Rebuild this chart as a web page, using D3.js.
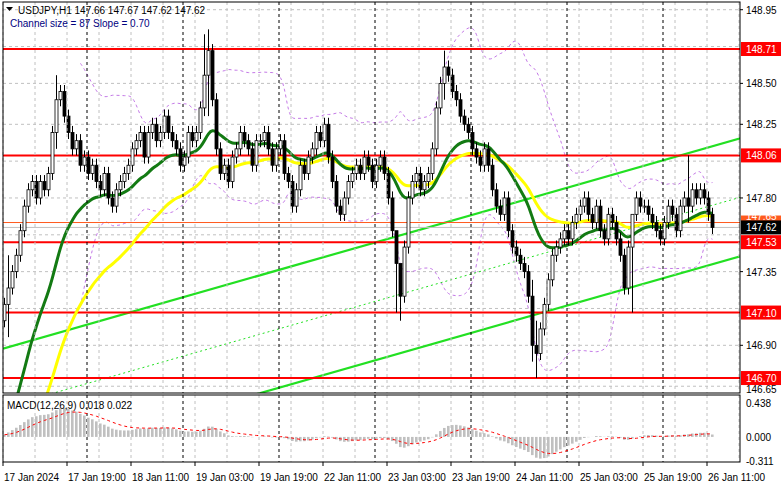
<!DOCTYPE html><html><head><meta charset="utf-8"><script src="https://cdn.jsdelivr.net/npm/d3@7"></script>
<style>body{margin:0;background:#fff}text{font-family:"Liberation Sans",Arial,sans-serif;font-size:10px}</style></head><body><svg id="c" width="781" height="489"></svg>
<script>
const closes=[147.15,147.25,147.35,147.45,147.6,147.75,147.85,147.9,147.8,147.9,147.85,147.95,148.2,148.4,148.45,148.3,
148.2,148.1,148.15,148.0,148.05,147.95,148.0,147.9,147.85,147.95,147.8,147.75,147.85,147.9,147.95,148.0,
148.1,148.15,148.2,148.05,148.2,148.25,148.15,148.2,148.3,148.2,148.15,148.1,148.0,148.05,148.2,148.15,
148.2,148.35,148.55,148.7,148.4,148.1,147.95,148.0,147.9,148.05,148.1,148.2,148.15,148.1,148.0,148.15,
148.15,148.2,148.1,148.0,148.1,148.15,147.95,147.9,147.75,147.85,148.0,147.95,148.05,148.1,148.2,148.15,
148.25,148.05,147.9,147.75,147.7,147.8,147.9,147.95,148.0,147.95,148.05,148.0,147.9,148.0,148.05,147.95,
147.8,147.6,147.4,147.2,147.5,147.8,147.9,147.95,147.85,147.9,147.95,148.1,148.35,148.5,148.6,148.55,
148.45,148.4,148.3,148.25,148.2,148.1,148.05,148.0,148.1,148.0,147.85,147.75,147.7,147.8,147.6,147.5,
147.45,147.4,147.35,147.2,146.9,146.85,147.0,147.15,147.3,147.45,147.5,147.55,147.6,147.55,147.65,147.7,
147.75,147.8,147.7,147.65,147.75,147.6,147.55,147.7,147.65,147.55,147.45,147.25,147.5,147.7,147.8,147.75,
147.75,147.7,147.65,147.6,147.55,147.65,147.75,147.7,147.6,147.75,147.8,147.75,147.85,147.8,147.85,147.8,
147.7,147.62];
const firstOpen=147.05;
const spikes=[[1,147.45,146.95],[13,148.55,148.1],[51,148.83,148.3],[50,148.8,148.3],[99,147.35,147.05],[98,147.55,147.1],[110,148.7,148.4],[133,147.05,146.7],[132,147.3,146.8],[157,147.5,147.1],[171,148.06,147.65]];
const timeLabels=["17 Jan 2024","17 Jan 19:00","18 Jan 11:00","19 Jan 03:00","19 Jan 19:00","22 Jan 11:00","23 Jan 03:00","23 Jan 19:00","24 Jan 11:00","25 Jan 03:00","25 Jan 19:00","26 Jan 11:00"];
const levels=[148.71,148.06,147.53,147.10,146.70];
const priceTicks=[148.95,148.50,148.25,147.80,147.35,146.90];
const gridPrices=[148.95,148.725,148.50,148.25,148.025,147.80,147.575,147.35,147.125,146.90,146.65];
const channel={startBar:0,startUpper:146.88,endBar:178,endUpper:148.12,width:0.72};
const macdTicks=[0.438,0.00,-0.311];

const svg=d3.select("#c");
const L=3,R=740,T=2,B=393,MT=395,MB=462;
const n=closes.length;
const x=d3.scaleLinear().domain([0,n]).range([3,3+4*n]);
const y=d3.scaleLinear().domain([148.71-(B-49)/163.7,148.71]).range([B,49]);
const opens=closes.map((c,i)=>i?closes[i-1]:firstOpen);
const highs=closes.map((c,i)=>Math.max(c,opens[i])+0.04);
const lows=closes.map((c,i)=>Math.min(c,opens[i])-0.04);
spikes.forEach(([i,h,l])=>{highs[i]=h;lows[i]=l;});
const main=svg.append("g");
main.append("defs").append("clipPath").attr("id","cp").append("rect").attr("x",L).attr("y",T).attr("width",R-L).attr("height",B-T);
const g=main.append("g").attr("clip-path","url(#cp)");
gridPrices.forEach(p=>g.append("line").attr("x1",L).attr("x2",R).attr("y1",y(p)).attr("y2",y(p)).attr("stroke","#c0c0c0").attr("stroke-dasharray","3,3"));
for(let i=0;i<=23;i++){const xx=x(i*8);[[T,B],[MT,MB]].forEach(([a,b])=>svg.append("line").attr("x1",xx).attr("x2",xx).attr("y1",a).attr("y2",b).attr("stroke","#c0c0c0").attr("stroke-dasharray","3,3"));}
for(let i=21;i<n;i+=24){const xx=x(i);[[T,B],[MT,MB]].forEach(([a,b])=>svg.append("line").attr("x1",xx).attr("x2",xx).attr("y1",a).attr("y2",b).attr("stroke","#000").attr("stroke-dasharray","3,3"));}
function sma(p){return closes.map((c,i)=>i<p-1?null:d3.mean(closes.slice(i-p+1,i+1)));}
function sd(p){return closes.map((c,i)=>i<p-1?null:d3.deviation(closes.slice(i-p+1,i+1)));}
const line=d3.line().defined(d=>d[1]!=null).x(d=>x(d[0])+1.5).y(d=>y(d[1])).curve(d3.curveBasis);
const m20=sma(20),s20=sd(20);
const bu=m20.map((m,i)=>m==null?null:m+2*s20[i]), bl=m20.map((m,i)=>m==null?null:m-2*s20[i]);
[bu,bl].forEach(a=>g.append("path").attr("d",line(a.map((v,i)=>[i,v]))).attr("fill","none").attr("stroke","#b455e0").attr("stroke-width",0.8).attr("stroke-dasharray","3,3"));
const slope=(channel.endUpper-channel.startUpper)/(channel.endBar-channel.startBar);
const ch=(off)=>[[channel.startBar,channel.startUpper+off],[channel.endBar+10,channel.startUpper+off+slope*(channel.endBar+10)]];
const sl=d3.line().x(d=>x(d[0])).y(d=>y(d[1]));
g.append("path").attr("d",sl(ch(0))).attr("stroke","#22e022").attr("stroke-width",2.2);
g.append("path").attr("d",sl(ch(-channel.width))).attr("stroke","#22e022").attr("stroke-width",2.2);
g.append("path").attr("d",sl(ch(-channel.width/2))).attr("stroke","#22e022").attr("stroke-width",1).attr("stroke-dasharray","2,3");
levels.forEach(p=>g.append("line").attr("x1",L).attr("x2",R).attr("y1",y(p)).attr("y2",y(p)).attr("stroke","#f00").attr("stroke-width",2));
g.append("line").attr("x1",L).attr("x2",R).attr("y1",y(147.65)).attr("y2",y(147.65)).attr("stroke","#ff5a1e").attr("stroke-width",1);
g.append("line").attr("x1",L).attr("x2",R).attr("y1",y(147.62)).attr("y2",y(147.62)).attr("stroke","#c0c0c0").attr("stroke-width",1);
const ema=(p,off)=>{const k=2/(p+1);let e=closes[0]+off;return closes.map(c=>e=e+(c-e)*k);};
const yl=ema(40,-1.4), gr=ema(22,-0.9);
g.append("path").attr("d",line(yl.map((v,i)=>[i,v]))).attr("fill","none").attr("stroke","#ffff00").attr("stroke-width",3);
g.append("path").attr("d",line(gr.map((v,i)=>[i,v]))).attr("fill","none").attr("stroke","#137a13").attr("stroke-width",3);
closes.forEach((c,i)=>{const o=opens[i],cx=x(i)+1.5;
 g.append("line").attr("x1",cx).attr("x2",cx).attr("y1",y(highs[i])).attr("y2",y(lows[i])).attr("stroke","#000");
 const top=y(Math.max(o,c)),h=Math.max(1,Math.abs(y(o)-y(c)));
 g.append("rect").attr("x",x(i)).attr("y",top).attr("width",3).attr("height",h).attr("fill",c>=o?"#fff":"#000").attr("stroke","#000").attr("stroke-width",0.8);
});
const ef=(p)=>{const k=2/(p+1);let e=closes[0]-0.35;return closes.map(c=>e=e+(c-e)*k);};
const e12=ef(12),e26=ef(26);
const macd=e12.map((v,i)=>v-e26[i]);
const sig=[];macd.forEach((v,i)=>sig.push(i?sig[i-1]+(v-sig[i-1])*0.2:v));
const ym=d3.scaleLinear().domain([-0.311,0.438]).range([461,403]);
macd.forEach((v,i)=>svg.append("rect").attr("x",x(i)).attr("width",2.6).attr("y",Math.min(ym(v),ym(0))).attr("height",Math.abs(ym(v)-ym(0))).attr("fill","#c0c0c0"));
svg.append("path").attr("d",d3.line().x((d,i)=>x(i)+1.5).y(d=>ym(d))(sig)).attr("fill","none").attr("stroke","#f00").attr("stroke-dasharray","3,3");
svg.append("rect").attr("x",L).attr("y",T).attr("width",R-L).attr("height",B-T).attr("fill","none").attr("stroke","#000");
svg.append("rect").attr("x",L).attr("y",MT).attr("width",R-L).attr("height",MB-MT).attr("fill","none").attr("stroke","#000");
priceTicks.forEach(p=>{svg.append("line").attr("x1",R).attr("x2",R+3).attr("y1",y(p)).attr("y2",y(p)).attr("stroke","#000");svg.append("text").attr("x",746).attr("y",y(p)+4).text(p.toFixed(2));});
svg.append("text").attr("x",746).attr("y",393).attr("font-size",8).text("146.65");
svg.append("rect").attr("x",R+1).attr("y",y(147.65)-7).attr("width",40).attr("height",13).attr("fill","#ff5a1e");
levels.forEach(p=>{svg.append("rect").attr("x",R+1).attr("y",y(p)-7).attr("width",40).attr("height",14).attr("fill","#f00");svg.append("text").attr("x",746).attr("y",y(p)+4).attr("fill","#fff").text(p.toFixed(2));});
svg.append("rect").attr("x",R+1).attr("y",y(147.62)-7).attr("width",40).attr("height",14).attr("fill","#000");
svg.append("text").attr("x",746).attr("y",y(147.62)+4).attr("fill","#fff").text("147.62");
svg.append("text").attr("x",746).attr("y",y(147.62)-7).attr("fill","#fff").attr("font-size",5).text("147.65");
macdTicks.forEach(v=>svg.append("text").attr("x",746).attr("y",ym(v)+4).text(v.toFixed(3)));
timeLabels.forEach((t,i)=>{svg.append("line").attr("x1",x(i*16)).attr("x2",x(i*16)).attr("y1",MB).attr("y2",MB+4).attr("stroke","#000");svg.append("text").attr("x",x(i*16)+1).attr("y",481).text(t);});
svg.append("path").attr("d","M6,7 L13,7 L9.5,11 Z").attr("fill","#000");
svg.append("text").attr("x",18).attr("y",14).attr("font-size",10.5).text("USDJPY,H1  147.66 147.67 147.62 147.62");
svg.append("text").attr("x",10).attr("y",27).attr("font-size",10.5).attr("fill","#000080").text("Channel size = 87 Slope = 0.70");
svg.append("text").attr("x",7).attr("y",409).text("MACD(12,26,9) 0.018 0.022");
</script></body></html>
